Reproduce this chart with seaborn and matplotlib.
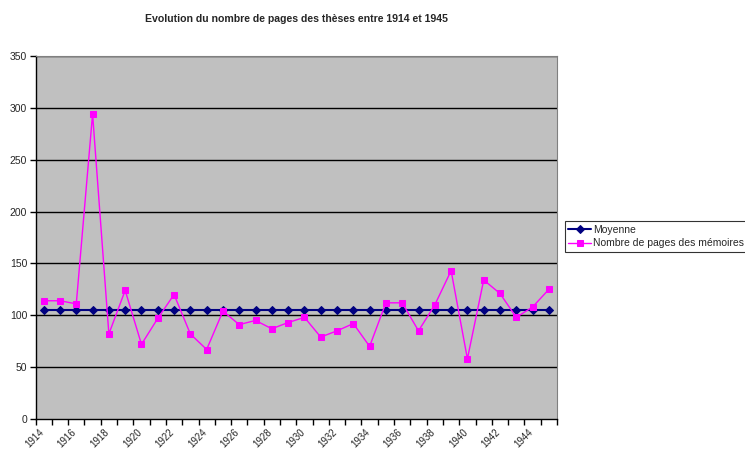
import matplotlib
matplotlib.use("Agg")
import matplotlib.pyplot as plt
import seaborn as sns
import pandas as pd

# donnees
annees = list(range(1914, 1946))
pages = [114, 114, 111, 294, 82, 124, 72, 97, 120, 82, 67, 104, 91, 95, 87, 93,
         98, 79, 85, 92, 70, 112, 112, 85, 110, 143, 58, 134, 121, 98, 108, 125]
moyenne = [105.5, 105.5, 105.5, 105.5, 105.5, 105.5, 105.5, 105.5,
           105.5, 105.5, 105.5, 105.5, 105.5, 105.5, 105.5, 105.5,
           105.5, 105.5, 105.5, 105.5, 105.5, 105.5, 105.5, 105.5,
           105.5, 105.5, 105.5, 105.5, 105.5, 105.5, 105.5, 105.5]
etiquettes = [str(a) for a in range(1914, 1946, 2)]

df = pd.DataFrame({"annee": annees, "pages": pages, "moyenne": moyenne})

sns.set_style("white")
plt.rcParams["font.family"] = ["Liberation Sans", "DejaVu Sans"]

fig = plt.figure(figsize=(7.45, 4.5), dpi=100)
ax = fig.add_axes([0.0477, 0.0689, 0.700, 0.8067])
ax.set_facecolor("#C0C0C0")

# grille horizontale
for v in range(50, 351, 50):
    ax.axhline(v, color="black", lw=1, zorder=1)

sns.lineplot(data=df, x="annee", y="moyenne", ax=ax, color="#000080",
             marker="D", markersize=3.8, markeredgecolor="#000080",
             lw=1.5, label="Moyenne", zorder=3)
sns.lineplot(data=df, x="annee", y="pages", ax=ax, color="#FF00FF",
             marker="s", markersize=4.8, markeredgecolor="#FF00FF",
             lw=1, label="Nombre de pages des mémoires", zorder=4)

ax.set_xlim(1913.5, 1945.5)
ax.set_ylim(0, 350)
ax.set_yticks(range(0, 351, 50))
ax.set_xticks([a - 0.5 for a in range(1914, 1947)], minor=True)
# etiquettes legerement decalees a gauche comme dans Excel
ax.set_xticks([a - 0.3 for a in range(1914, 1946, 2)])
ax.set_xticklabels(etiquettes, rotation=45, ha="right", rotation_mode="anchor",
                   fontsize=7)
ax.tick_params(axis="x", which="major", length=0, pad=6)
ax.tick_params(axis="x", which="minor", length=4, width=1, color="black",
               direction="out", bottom=True)
ax.tick_params(axis="y", length=4, width=1, color="black", direction="out",
               left=True, labelsize=7.5, pad=2)
ax.set_xlabel("")
ax.set_ylabel("")

for s in ["left", "bottom"]:
    ax.spines[s].set_color("black")
    ax.spines[s].set_linewidth(1)
for s in ["top", "right"]:
    ax.spines[s].set_color("#808080")
    ax.spines[s].set_linewidth(0.8)

fig.suptitle("Evolution du nombre de pages des thèses entre 1914 et 1945",
             x=0.398, y=0.97, fontsize=7.6, fontweight="bold")

leg = ax.legend(loc="upper left", bbox_to_anchor=(0.758, 0.508),
                bbox_transform=fig.transFigure, fontsize=7.5, frameon=True,
                fancybox=False, borderaxespad=0, handlelength=2.2,
                handletextpad=0.2, borderpad=0.35, labelspacing=0.3)
leg.get_frame().set_edgecolor("black")
leg.get_frame().set_linewidth(0.8)

fig.savefig("out.png", dpi=100)
